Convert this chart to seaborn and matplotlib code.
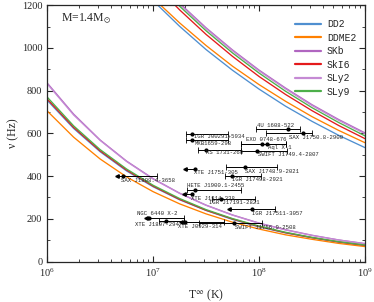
import numpy as np
import pandas as pd
import matplotlib
matplotlib.use('Agg')
import matplotlib.pyplot as plt
import seaborn as sns

# curvas de instabilidade (log10 T, frequencia em Hz)
eos_names = ['DD2', 'DDME2', 'SKb', 'SkI6', 'SLy2', 'SLy9']
eos_colors = ['#4f8fd0', '#ff8000', '#b066c0', '#e41a1c', '#c58ad4', '#4daf4a']

logT_low = [6.0, 6.25, 6.5, 6.75, 7.0, 7.25, 7.5, 7.75, 8.0, 8.25, 8.5, 8.75, 9.0]
nu_low = {
    'DD2':   [755, 623, 514, 424, 350, 289, 239, 197, 162, 134, 111, 91, 75],
    'DDME2': [705, 582, 480, 396, 327, 270, 223, 184, 152, 125, 104, 85, 70],
    'SKb':   [836, 690, 569, 470, 388, 320, 264, 218, 180, 149, 123, 101, 84],
    'SkI6':  [761, 628, 518, 428, 353, 291, 240, 199, 164, 135, 112, 92, 76],
    'SLy2':  [832, 686, 567, 468, 386, 319, 263, 217, 179, 148, 122, 101, 83],
    'SLy9':  [770, 635, 524, 433, 357, 295, 243, 201, 166, 137, 113, 93, 77],
}

logT_high = [7.0, 7.25, 7.5, 7.75, 8.0, 8.25, 8.5, 8.75, 9.0]
nu_high = {
    'DD2':   [1221, 1101, 992, 895, 807, 727, 656, 591, 533],
    'DDME2': [1233, 1117, 1011, 914, 828, 750, 678, 614, 556],
    'SKb':   [1335, 1209, 1094, 990, 896, 812, 734, 665, 602],
    'SkI6':  [1305, 1178, 1063, 960, 866, 782, 706, 637, 575],
    'SLy2':  [1330, 1204, 1090, 986, 892, 808, 730, 661, 598],
    'SLy9':  [1322, 1195, 1080, 976, 882, 797, 720, 651, 588],
}

# fontes observadas: nome, frequencia, log10 T (min, ponto, max), limite superior
src_names = ['4U 1608-522', 'SAX J1750.8-2900', 'IGR J00291+5934', 'MXB1659-298',
             'EXO 0748-676', 'Aql X-1', 'KS 1731-260', 'SWIFT J1749.4-2807',
             'XTE J1751-305', 'SAX J1748.9-2021', 'IGR J17498-2921', 'SAX J1808.4-3658',
             'HETE J1900.1-2455', 'XTE J1814-338', 'IGR J17191-2821', 'IGR J17511-3057',
             'NGC 6440 X-2', 'XTE J1807-294', 'XTE J0929-314', 'SWIFT J1756.9-2508']
src_nu = [620, 601, 599, 567, 552, 550, 524, 518, 435, 442, 401, 401,
          333, 314, 294, 245, 205, 190, 185, 182]
src_lo = [7.973, 8.07, 7.31, 7.31, 7.834, 7.834, 7.427, 7.834, 7.30, 7.692, 7.68, 6.66,
          7.322, 7.29, 7.56, 7.72, 6.934, 7.057, 7.265, 7.436]
src_mid = [8.27, 8.41, 7.37, 7.37, 8.071, 8.024, 7.502, 7.976, 7.40, 7.863, 7.74, 6.716,
           7.398, 7.37, 7.645, 7.93, 6.96, 7.123, 7.303, 7.768]
src_hi = [8.39, 8.50, 7.71, 7.71, 8.251, 8.251, 7.834, 8.26, 7.40, 8.166, 8.02, 7.038,
          7.834, 7.37, 7.957, 8.147, 7.294, 7.294, 7.673, 8.03]
src_upper = [False, False, False, False, False, False, False, False, True, False, False, True,
             False, True, False, True, True, False, True, False]

# posicao dos rotulos (log10 T, Hz)
lab_x = [7.976, 8.28, 7.389, 7.389, 7.88, 8.08, 7.50, 7.986, 7.389, 7.863, 7.749, 6.697,
         7.322, 7.36, 7.531, 7.938, 6.848, 6.829, 7.237, 7.777]
lab_y = [639, 582, 584, 554, 573, 533, 508, 500, 419, 423, 386, 381,
         358, 297, 274, 227, 227, 171, 166, 161]

rows = []
for name in eos_names:
    for lt, v in zip(logT_low, nu_low[name]):
        rows.append((10 ** lt, v, name, 'low'))
    for lt, v in zip(logT_high, nu_high[name]):
        rows.append((10 ** lt, v, name, 'high'))
df = pd.DataFrame(rows, columns=['T', 'nu', 'eos', 'branch'])

sns.set_style('ticks')
plt.rcParams['font.family'] = ['Liberation Serif', 'DejaVu Serif']
plt.rcParams['mathtext.fontset'] = 'stix'

fig = plt.figure(figsize=(3.74, 3.02), dpi=100)
ax = fig.add_axes([0.126, 0.134, 0.85, 0.849])

sns.lineplot(data=df, x='T', y='nu', hue='eos', units='branch', estimator=None,
             palette=dict(zip(eos_names, eos_colors)), hue_order=eos_names,
             sort=False, lw=0.95, ax=ax)

for i in range(len(src_names)):
    lo, mid, hi, v = 10 ** src_lo[i], 10 ** src_mid[i], 10 ** src_hi[i], src_nu[i]
    ax.plot([lo, hi], [v, v], color='k', lw=0.7)
    if src_upper[i]:
        ax.plot(lo, v, marker='<', ms=2.5, color='k')
    else:
        ax.plot(lo, v, marker='|', ms=4, mew=0.6, color='k')
    if hi > mid:
        ax.plot(hi, v, marker='|', ms=4, mew=0.6, color='k')
    ax.plot(mid, v, marker='o', ms=2, color='k')
    ax.text(10 ** lab_x[i], lab_y[i], src_names[i], fontsize=4.1,
            family='Liberation Mono', va='center', ha='left')

ax.set_xscale('log')
ax.set_xlim(1e6, 1e9)
ax.set_ylim(0, 1200)
ax.set_yticks([0, 200, 400, 600, 800, 1000, 1200])
ax.yaxis.set_minor_locator(matplotlib.ticker.MultipleLocator(100))
ax.tick_params(which='both', direction='in', top=True, right=True, labelsize=7.5)
ax.tick_params(which='major', length=4, width=0.8)
ax.tick_params(which='minor', length=2, width=0.6)
for s in ax.spines.values():
    s.set_linewidth(0.9)

ax.set_xlabel(r'T$^{\infty}$ (K)', fontsize=8.5, labelpad=6)
ax.set_ylabel('ν (Hz)', fontsize=8.5, labelpad=2)
ax.text(0.045, 0.935, r'M=1.4M$_{\odot}$', transform=ax.transAxes, fontsize=8.5)

ax.legend(loc='upper right', frameon=False, handlelength=2.7, handletextpad=0.6,
          labelspacing=0.36, prop={'family': 'Liberation Mono', 'size': 7},
          bbox_to_anchor=(1.0, 0.98))
for line in ax.get_legend().get_lines():
    line.set_linewidth(1.6)

fig.savefig('out.png', dpi=100)
